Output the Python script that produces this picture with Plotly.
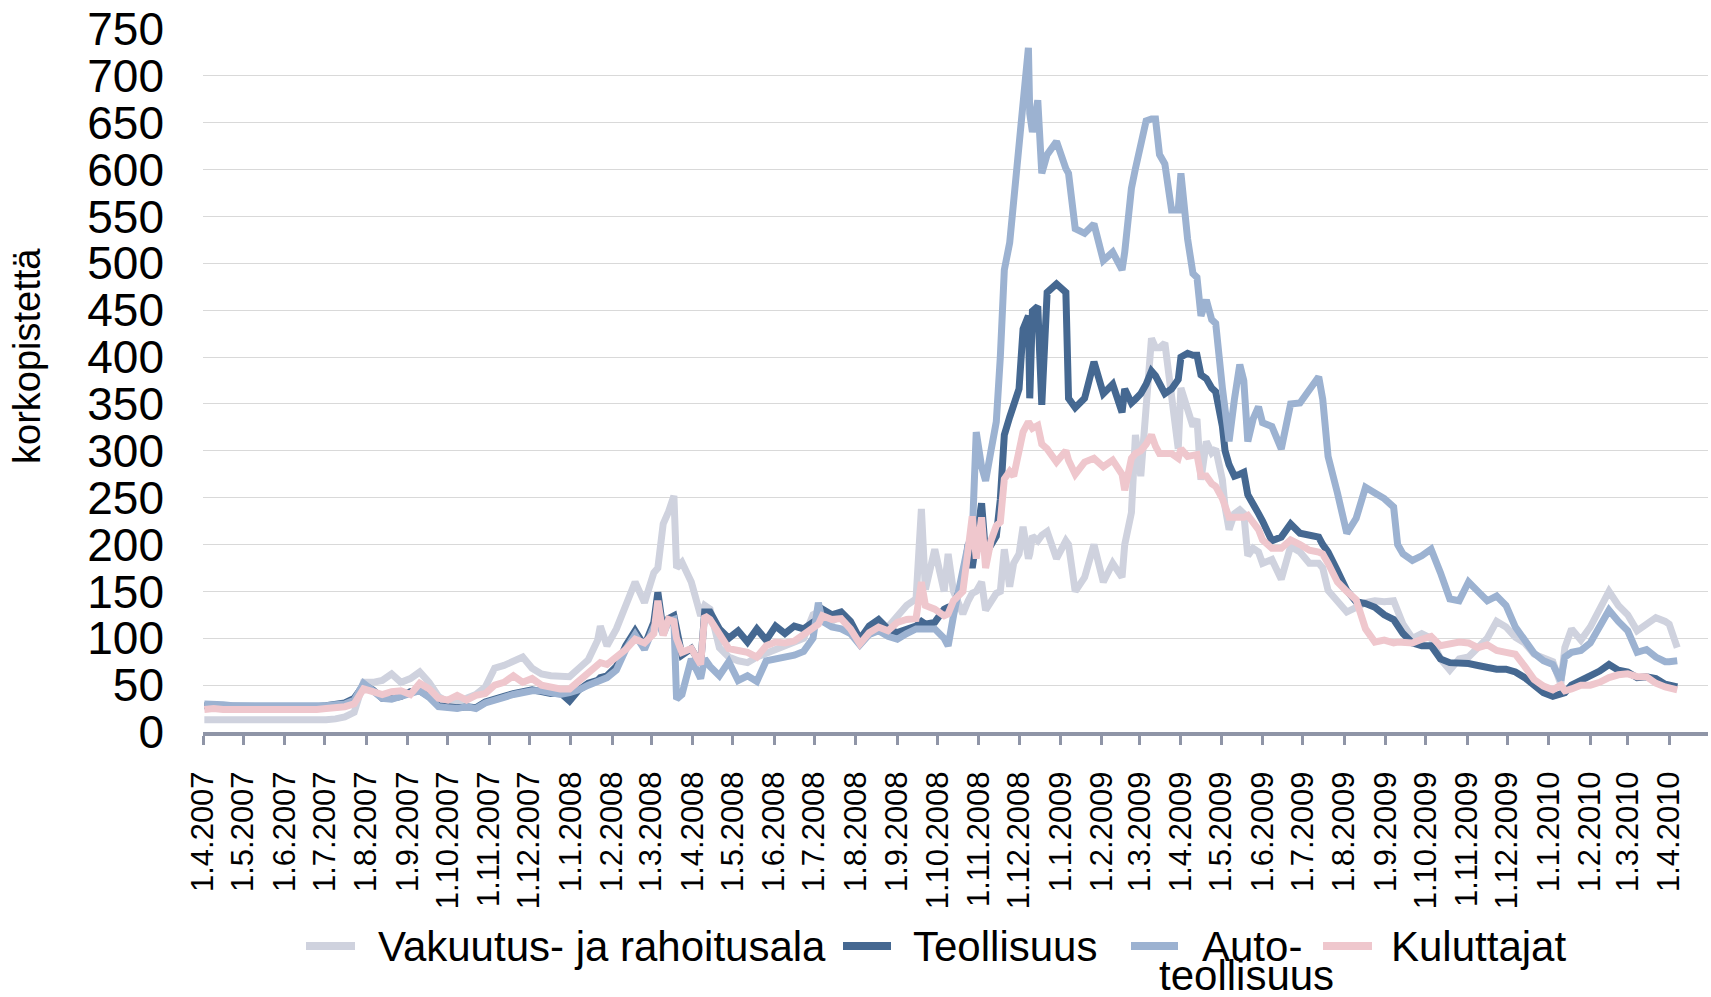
import plotly.graph_objects as go

# ---------------- data ----------------
dates = [
    "2007-04-02", "2007-04-09", "2007-04-16", "2007-04-23", "2007-04-30",
    "2007-05-07", "2007-05-14", "2007-05-21", "2007-05-28",
    "2007-06-04", "2007-06-11", "2007-06-18", "2007-06-25",
    "2007-07-02", "2007-07-09", "2007-07-16", "2007-07-23", "2007-07-30",
    "2007-08-06", "2007-08-13", "2007-08-20", "2007-08-27",
    "2007-09-03", "2007-09-10", "2007-09-17", "2007-09-24",
    "2007-10-01", "2007-10-08", "2007-10-15", "2007-10-22", "2007-10-29",
    "2007-11-05", "2007-11-12", "2007-11-19", "2007-11-26",
    "2007-12-03", "2007-12-10", "2007-12-17", "2007-12-24", "2007-12-31",
    "2008-01-07", "2008-01-14", "2008-01-21", "2008-01-23", "2008-01-28",
    "2008-02-04", "2008-02-11", "2008-02-18", "2008-02-25",
    "2008-03-03", "2008-03-06", "2008-03-10", "2008-03-14", "2008-03-18", "2008-03-20", "2008-03-24", "2008-03-31",
    "2008-04-07", "2008-04-10", "2008-04-14", "2008-04-21", "2008-04-28",
    "2008-05-05", "2008-05-12", "2008-05-19", "2008-05-26",
    "2008-06-02", "2008-06-09", "2008-06-16", "2008-06-23", "2008-06-30",
    "2008-07-04", "2008-07-07", "2008-07-14", "2008-07-21", "2008-07-28",
    "2008-08-04", "2008-08-11", "2008-08-18", "2008-08-25",
    "2008-09-01", "2008-09-08", "2008-09-15", "2008-09-19", "2008-09-22", "2008-09-29",
    "2008-10-06", "2008-10-09", "2008-10-13", "2008-10-20", "2008-10-24", "2008-10-27", "2008-10-30",
    "2008-11-03", "2008-11-06", "2008-11-10", "2008-11-14", "2008-11-17", "2008-11-20", "2008-11-24", "2008-11-27",
    "2008-12-01", "2008-12-04", "2008-12-08", "2008-12-09", "2008-12-11", "2008-12-15", "2008-12-18", "2008-12-22", "2008-12-29",
    "2009-01-05", "2009-01-07", "2009-01-12", "2009-01-19", "2009-01-26",
    "2009-02-02", "2009-02-09", "2009-02-16", "2009-02-18", "2009-02-23", "2009-02-26",
    "2009-03-02", "2009-03-06", "2009-03-10", "2009-03-13", "2009-03-16", "2009-03-20", "2009-03-25", "2009-03-30",
    "2009-04-01", "2009-04-06", "2009-04-10", "2009-04-13", "2009-04-16", "2009-04-20", "2009-04-24", "2009-04-27",
    "2009-05-02", "2009-05-04", "2009-05-07", "2009-05-11", "2009-05-15", "2009-05-18", "2009-05-21", "2009-05-25", "2009-05-29",
    "2009-06-01", "2009-06-08", "2009-06-15", "2009-06-22", "2009-06-29",
    "2009-07-06", "2009-07-13", "2009-07-16", "2009-07-20", "2009-07-27",
    "2009-08-03", "2009-08-10", "2009-08-17", "2009-08-24", "2009-08-31",
    "2009-09-07", "2009-09-10", "2009-09-14", "2009-09-21", "2009-09-28",
    "2009-10-05", "2009-10-12", "2009-10-19", "2009-10-26",
    "2009-11-02", "2009-11-09", "2009-11-16", "2009-11-23", "2009-11-30",
    "2009-12-07", "2009-12-14", "2009-12-21", "2009-12-28",
    "2010-01-04", "2010-01-10", "2010-01-13", "2010-01-18", "2010-01-25",
    "2010-02-01", "2010-02-08", "2010-02-15", "2010-02-22",
    "2010-03-01", "2010-03-08", "2010-03-15", "2010-03-22", "2010-03-29",
    "2010-04-01", "2010-04-07",
]

vakuutus = [
    13, 13, 13, 13, 12,
    12, 12, 12, 12,
    12, 12, 12, 12,
    13, 14, 16, 21, 53,
    53, 55, 62, 53,
    57, 64, 53, 38,
    32, 33, 36, 40, 48,
    68, 71, 75, 80,
    68, 62, 60, 59, 59,
    68, 77, 98, 113, 92,
    110, 135, 160, 138,
    170, 175, 222, 235, 252, 175, 181, 160,
    124, 135, 131, 90, 80,
    76, 74, 80, 84,
    90, 92, 96, 100, 125,
    128, 120, 118, 124, 112,
    100, 110, 115, 112,
    124, 135, 142, 238, 152, 195,
    150, 190, 150, 126, 140, 148, 150,
    160, 130, 141, 148, 150, 195, 155, 180,
    190, 219, 185, 190, 209, 204, 210, 214, 185,
    204, 200, 150, 165, 200,
    160, 180, 165, 200, 234, 317,
    273, 341, 420, 410, 410, 415, 356, 302,
    367, 343, 326, 334, 269, 310, 298, 302,
    269, 240, 216, 233, 237, 233, 188, 196, 192,
    180, 184, 163, 198, 192,
    180, 180, 175, 151, 139,
    128, 133, 138, 140, 139,
    140, 130, 115, 100, 105,
    100, 78, 66, 78,
    80, 90, 100, 118, 112,
    101, 95, 83, 78,
    75, 51, 90, 110, 98,
    112, 132, 150, 135,
    125, 108, 115, 122, 118,
    115, 90,
]

teollisuus = [
    28, 28, 27, 27, 27,
    27, 27, 26, 26,
    26, 26, 26, 27,
    28, 29, 31, 36, 50,
    45, 36, 36, 38,
    43, 44, 38, 28,
    27, 26, 27, 26, 32,
    36, 38, 41, 43,
    45, 43, 41, 42, 33,
    45, 52, 55, 58, 60,
    70, 92, 108, 92,
    117, 149, 108, 121, 124, 110, 82, 89,
    72, 128, 128, 110, 100,
    108, 96, 110, 98,
    113, 105, 113, 110, 117,
    120, 131, 125, 128, 118,
    99, 113, 120, 110,
    106, 110, 113, 118, 115, 117,
    131, 133, 135, 160, 200, 175, 205,
    244, 190, 200, 209, 248, 317, 336, 351,
    366, 430, 444, 356, 449, 454, 349, 469, 478,
    469, 356, 346, 356, 395,
    361, 371, 341, 366, 351, 355,
    361, 371, 385, 380, 371, 361, 366, 376,
    400, 404, 402, 402, 381, 377, 367, 363,
    326, 300, 285, 273, 275, 277, 253, 241, 233,
    225, 204, 208, 222, 212,
    210, 208, 200, 192, 172,
    151, 139, 137, 133, 125,
    120, 113, 105, 95, 92,
    92, 78, 74, 74,
    73, 71, 69, 67, 67,
    64, 58, 50, 42,
    38, 40, 42, 50, 55,
    58, 65, 72, 66,
    64, 58, 59, 57, 51,
    50, 48,
]

autoteollisuus = [
    30, 30, 29, 28, 28,
    27, 28, 27, 27,
    27, 27, 27, 27,
    28, 29, 30, 34, 52,
    44, 36, 35, 38,
    42, 44, 37, 27,
    26, 25, 27, 25, 31,
    35, 37, 40, 42,
    44, 44, 42, 40, 42,
    45, 50, 54, 56, 58,
    66, 88, 104, 88,
    112, 118, 104, 118, 120, 35, 40, 78,
    57, 78, 70, 60, 75,
    55, 60, 54, 76,
    78, 80, 82, 86, 100,
    138, 118, 112, 110, 105,
    93, 104, 108, 102,
    99, 105, 110, 110, 110, 110,
    100, 92, 124, 170, 200, 209, 320,
    283, 268, 300, 331, 400, 493, 522, 566,
    630, 684, 730, 660, 640, 674, 596, 616, 630,
    601, 596, 537, 532, 542,
    503, 512, 493, 512, 580, 601,
    625, 652, 654, 654, 616, 606, 557, 557,
    596, 526, 489, 485, 444, 461, 440, 436,
    367, 340, 310, 355, 392, 375, 310, 334, 347,
    330, 326, 302, 350, 351,
    365, 379, 355, 294, 255,
    212, 228, 261, 255, 249,
    240, 200, 190, 183, 188,
    195, 170, 142, 140,
    160, 150, 140, 145, 135,
    112, 98, 84, 76,
    72, 55, 80, 85, 87,
    95, 112, 130, 118,
    108, 85, 88, 80, 75,
    75, 76,
]

kuluttajat = [
    24, 25, 24, 24, 24,
    24, 23, 23, 23,
    23, 23, 23, 24,
    25, 26, 27, 30, 46,
    43, 40, 43, 44,
    40, 52, 46, 36,
    34, 39, 34, 39, 41,
    50, 53, 60, 53,
    57, 50, 48, 46, 46,
    55, 62, 72, 74, 72,
    80, 88, 99, 95,
    105, 140, 103, 120, 118, 100, 85, 89,
    72, 124, 120, 105, 89,
    87, 85, 80, 92,
    96, 95, 97, 104, 110,
    115, 124, 120, 121, 110,
    94, 106, 112, 108,
    117, 120, 121, 160, 135, 131,
    124, 126, 140, 150, 195, 230, 185,
    229, 175, 204, 220, 224, 270, 278, 273,
    300, 320, 331, 328, 324, 327, 307, 302, 288,
    300, 290, 275, 288, 292,
    283, 290, 275, 258, 292, 297,
    300, 307, 317, 305, 297, 297, 297, 292,
    302, 294, 296, 296, 273, 273, 265, 262,
    249, 240, 229, 229, 229, 229, 231, 222, 216,
    205, 196, 196, 205, 200,
    194, 192, 190, 180, 160,
    150, 141, 110, 96, 98,
    95, 96, 96, 95, 99,
    102, 92, 94, 96,
    95, 90, 93, 87, 85,
    83, 70, 56, 49,
    45, 50, 44, 46, 50,
    50, 53, 58, 61,
    62, 59, 59, 52, 48,
    47, 45,
]

series_names = ["Vakuutus- ja rahoitusala", "Teollisuus", "Auto-teollisuus", "Kuluttajat"]
series_colors = ["#CFD2DE", "#456891", "#9CB2D1", "#EFC7CD"]
series_values = [vakuutus, teollisuus, autoteollisuus, kuluttajat]

for v in series_values:
    assert len(v) == len(dates), (len(v), len(dates))

# month tick labels 1.4.2007 ... 1.4.2010
tick_months = []
y, m = 2007, 4
while (y, m) <= (2010, 4):
    tick_months.append((y, m))
    m += 1
    if m > 12:
        m = 1
        y += 1
tick_vals = [f"{yy}-{mm:02d}-01" for yy, mm in tick_months]
tick_text = [f"1.{mm}.{yy}" for yy, mm in tick_months]

y_ticks = list(range(0, 751, 50))

# ---------------- figure ----------------
FONT = "Liberation Sans, Arial, Helvetica, sans-serif"
W, H = 1711, 997
L, R, T, B = 203, 3, 29, 265
PW, PH = W - L - R, H - T - B


def px_x(px):
    return (px - L) / PW


def px_y(py):
    return (H - B - py) / PH


fig = go.Figure()
for name, color, vals in zip(series_names, series_colors, series_values):
    fig.add_trace(go.Scatter(
        x=dates, y=vals, name=name, mode="lines",
        line=dict(color=color, width=7),
        showlegend=False,
    ))

fig.update_layout(
    width=W, height=H,
    margin=dict(l=L, r=R, t=T, b=B, pad=0),
    plot_bgcolor="white", paper_bgcolor="white",
    font=dict(family=FONT, color="black"),
    showlegend=False,
    hovermode=False,
)

fig.update_xaxes(
    type="date",
    range=["2007-04-01", "2010-04-30"],
    tickmode="array", tickvals=tick_vals, ticktext=tick_text,
    tickangle=-90,
    tickfont=dict(size=31, family=FONT, color="black"),
    showgrid=False, zeroline=False,
    showline=True, linecolor="#8F95A7", linewidth=4,
    ticks="outside", ticklen=9, tickwidth=3, tickcolor="#8F95A7",
    ticklabelstandoff=14,
)

fig.update_yaxes(
    range=[0, 750],
    tickmode="array", tickvals=y_ticks, ticktext=[str(t) for t in y_ticks],
    tickfont=dict(size=46, family=FONT, color="black"),
    showgrid=True, gridcolor="#D9D9D9", gridwidth=1.3,
    zeroline=False, showline=False, ticks="",
    ticklabelstandoff=38,
)

annotations = [
    dict(text="korkopistettä", x=px_x(27), y=px_y(356), xref="paper", yref="paper",
         textangle=-90, showarrow=False, xanchor="center", yanchor="middle",
         font=dict(size=38, family=FONT, color="black")),
]

# manual legend (bottom)
legend_y = 946
legend_items = [
    (306, 355, 376, series_colors[0], "Vakuutus- ja rahoitusala"),
    (843, 891, 911, series_colors[1], "Teollisuus"),
    (1131, 1178, 1200, series_colors[2], "Auto-"),
    (1323, 1372, 1389, series_colors[3], "Kuluttajat"),
]
shapes = []
for x0, x1, tx, col, label in legend_items:
    shapes.append(dict(type="line", xref="paper", yref="paper",
                       x0=px_x(x0), x1=px_x(x1), y0=px_y(legend_y), y1=px_y(legend_y),
                       line=dict(color=col, width=8)))
    annotations.append(dict(text=label, x=px_x(tx), y=px_y(legend_y), xref="paper", yref="paper",
                            showarrow=False, xanchor="left", yanchor="middle",
                            font=dict(size=42, family=FONT, color="black")))
annotations.append(dict(text="teollisuus", x=px_x(1157), y=px_y(976), xref="paper", yref="paper",
                        showarrow=False, xanchor="left", yanchor="middle",
                        font=dict(size=42, family=FONT, color="black")))

fig.update_layout(annotations=annotations, shapes=shapes)

fig.write_html(
    "out.html",
    config={"displayModeBar": False},
    post_script="document.body.style.margin='0';document.body.style.overflow='hidden';",
)
